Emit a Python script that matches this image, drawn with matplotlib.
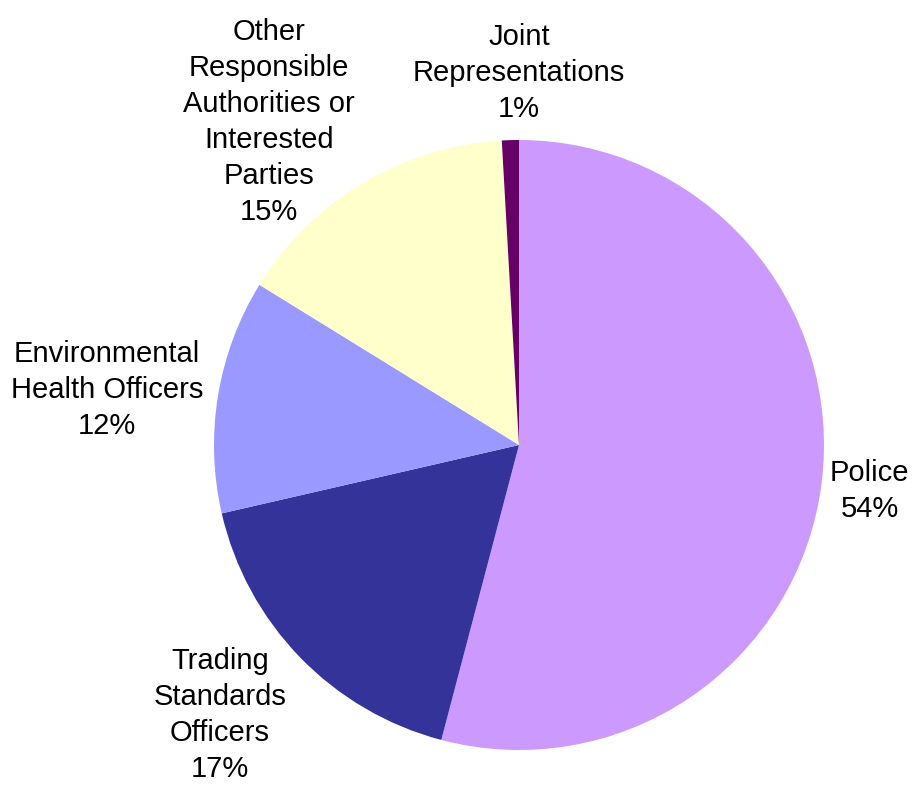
import matplotlib.pyplot as plt

plt.rcParams['font.family'] = ['Liberation Sans', 'DejaVu Sans']

categories = ['Police', 'Trading\nStandards\nOfficers', 'Environmental\nHealth Officers',
              'Other\nResponsible\nAuthorities or\nInterested\nParties', 'Joint\nRepresentations']
shares = [54.1, 17.3, 12.4, 15.3, 0.9]
colors = ['#CC99FF', '#333399', '#9999FF', '#FFFFCC', '#660066']

# label centres, in pie-radius units
label_pos = [(1.15, -0.15), (-0.98, -0.885), (-1.35, 0.18), (-0.82, 1.06), (0.0, 1.22)]

W, H = 920, 785
cx, cy, r = 519, 445, 305

fig = plt.figure(figsize=(W / 100, H / 100), dpi=100)
ax = fig.add_axes([0, 0, 1, 1])
ax.pie(shares, colors=colors, startangle=90, counterclock=False,
       wedgeprops={'linewidth': 0})

for name, val, (lx, ly) in zip(categories, shares, label_pos):
    ax.text(lx, ly, f"{name}\n{val:.0f}%", ha='center', va='center',
            fontsize=21, linespacing=1.36)

ax.set_xlim(-cx / r, (W - cx) / r)
ax.set_ylim(-(H - cy) / r, cy / r)
ax.set_aspect('equal', adjustable='datalim')
ax.axis('off')

fig.savefig('out.png', dpi=100)
